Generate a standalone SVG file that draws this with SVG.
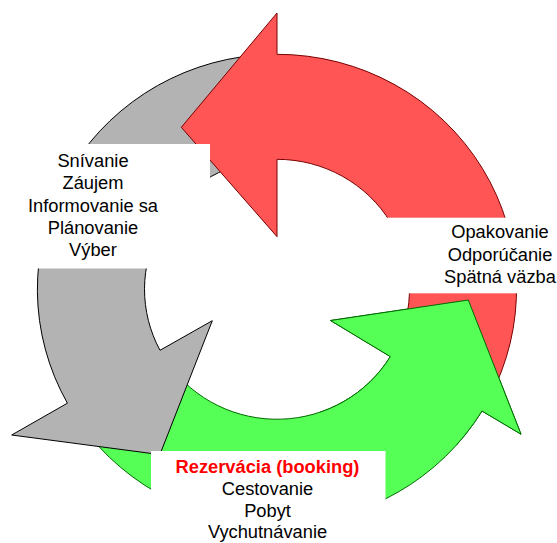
<svg xmlns="http://www.w3.org/2000/svg" xmlns:xlink="http://www.w3.org/1999/xlink" width="557" height="543" viewBox="0 0 557 543">
  <style>
    .lbl { font-family: "Liberation Sans", Arial, sans-serif; font-size: 18.3px; fill: #000; text-anchor: middle; }
    .hot { fill: #ff0000; font-weight: bold; }
    .box { fill: #ffffff; stroke: none; }
    .gray  { fill: #b3b3b3; stroke: #000000; stroke-width: 1; stroke-linejoin: miter; }
    .green { fill: #55ff55; stroke: #006a00; stroke-width: 1; stroke-linejoin: miter; }
    .red   { fill: #ff5555; stroke: #7a0000; stroke-width: 1; stroke-linejoin: miter; }
  </style>
  <defs>
    <!-- ring centre (277,289.3), outer radii 239.6/235, inner radii 132.5/130 -->
    <path id="green-shape" d="M 80.7 424.1 A 239.6 235 0 0 0 482 411 L 521 434.2 L 468.3 300 L 330.5 320.5 L 390.3 356.6 A 132.5 130 0 0 1 168.5 363.9 Z"/>
    <clipPath id="green-head-clip">
      <rect x="320" y="285" width="237" height="160"/>
    </clipPath>
  </defs>

  <!-- circular arrows of the cycle -->
  <g id="cycle-arrows">
    <g id="arrow-booking">
      <use xlink:href="#green-shape" class="green"/>
    </g>
    <g id="arrow-planning">
      <path class="gray" d="M 256.1 55.2 A 239.6 235 0 0 0 67.4 403.2 L 11.7 435 L 159.9 454.6 L 212.3 320.7 L 160 350.3 A 132.5 130 0 0 1 265.5 159.8 Z"/>
    </g>
    <g id="arrow-feedback">
      <path class="red" d="M 277 54.3 A 239.6 235 0 0 1 488.5 399.6 L 394 350.3 A 132.5 130 0 0 0 277 159.3 L 277 236.7 L 181.3 127.3 L 277 13 Z"/>
    </g>
    <!-- green arrowhead lies over the red tail -->
    <g id="arrow-booking-head" clip-path="url(#green-head-clip)">
      <use xlink:href="#green-shape" class="green"/>
    </g>
  </g>

  <!-- phase labels -->
  <g id="phase-before">
    <rect class="box" x="0" y="144" width="210" height="124.5"/>
    <text class="lbl" x="93" y="167.3">Snívanie</text>
    <text class="lbl" x="93" y="189.4">Záujem</text>
    <text class="lbl" x="93" y="211.5">Informovanie sa</text>
    <text class="lbl" x="93" y="233.6">Plánovanie</text>
    <text class="lbl" x="93" y="255.7">Výber</text>
  </g>

  <g id="phase-after">
    <rect class="box" x="387" y="217.7" width="170" height="75.6"/>
    <text class="lbl" x="500" y="238.3">Opakovanie</text>
    <text class="lbl" x="500" y="260.8">Odporúčanie</text>
    <text class="lbl" x="500" y="282.7">Spätná väzba</text>
  </g>

  <g id="phase-during">
    <rect class="box" x="151" y="451" width="234.5" height="92"/>
    <text class="lbl hot" x="267.5" y="473.3">Rezervácia (booking)</text>
    <text class="lbl" x="267.5" y="495">Cestovanie</text>
    <text class="lbl" x="267.5" y="516.5">Pobyt</text>
    <text class="lbl" x="267.5" y="538.3">Vychutnávanie</text>
  </g>
</svg>
